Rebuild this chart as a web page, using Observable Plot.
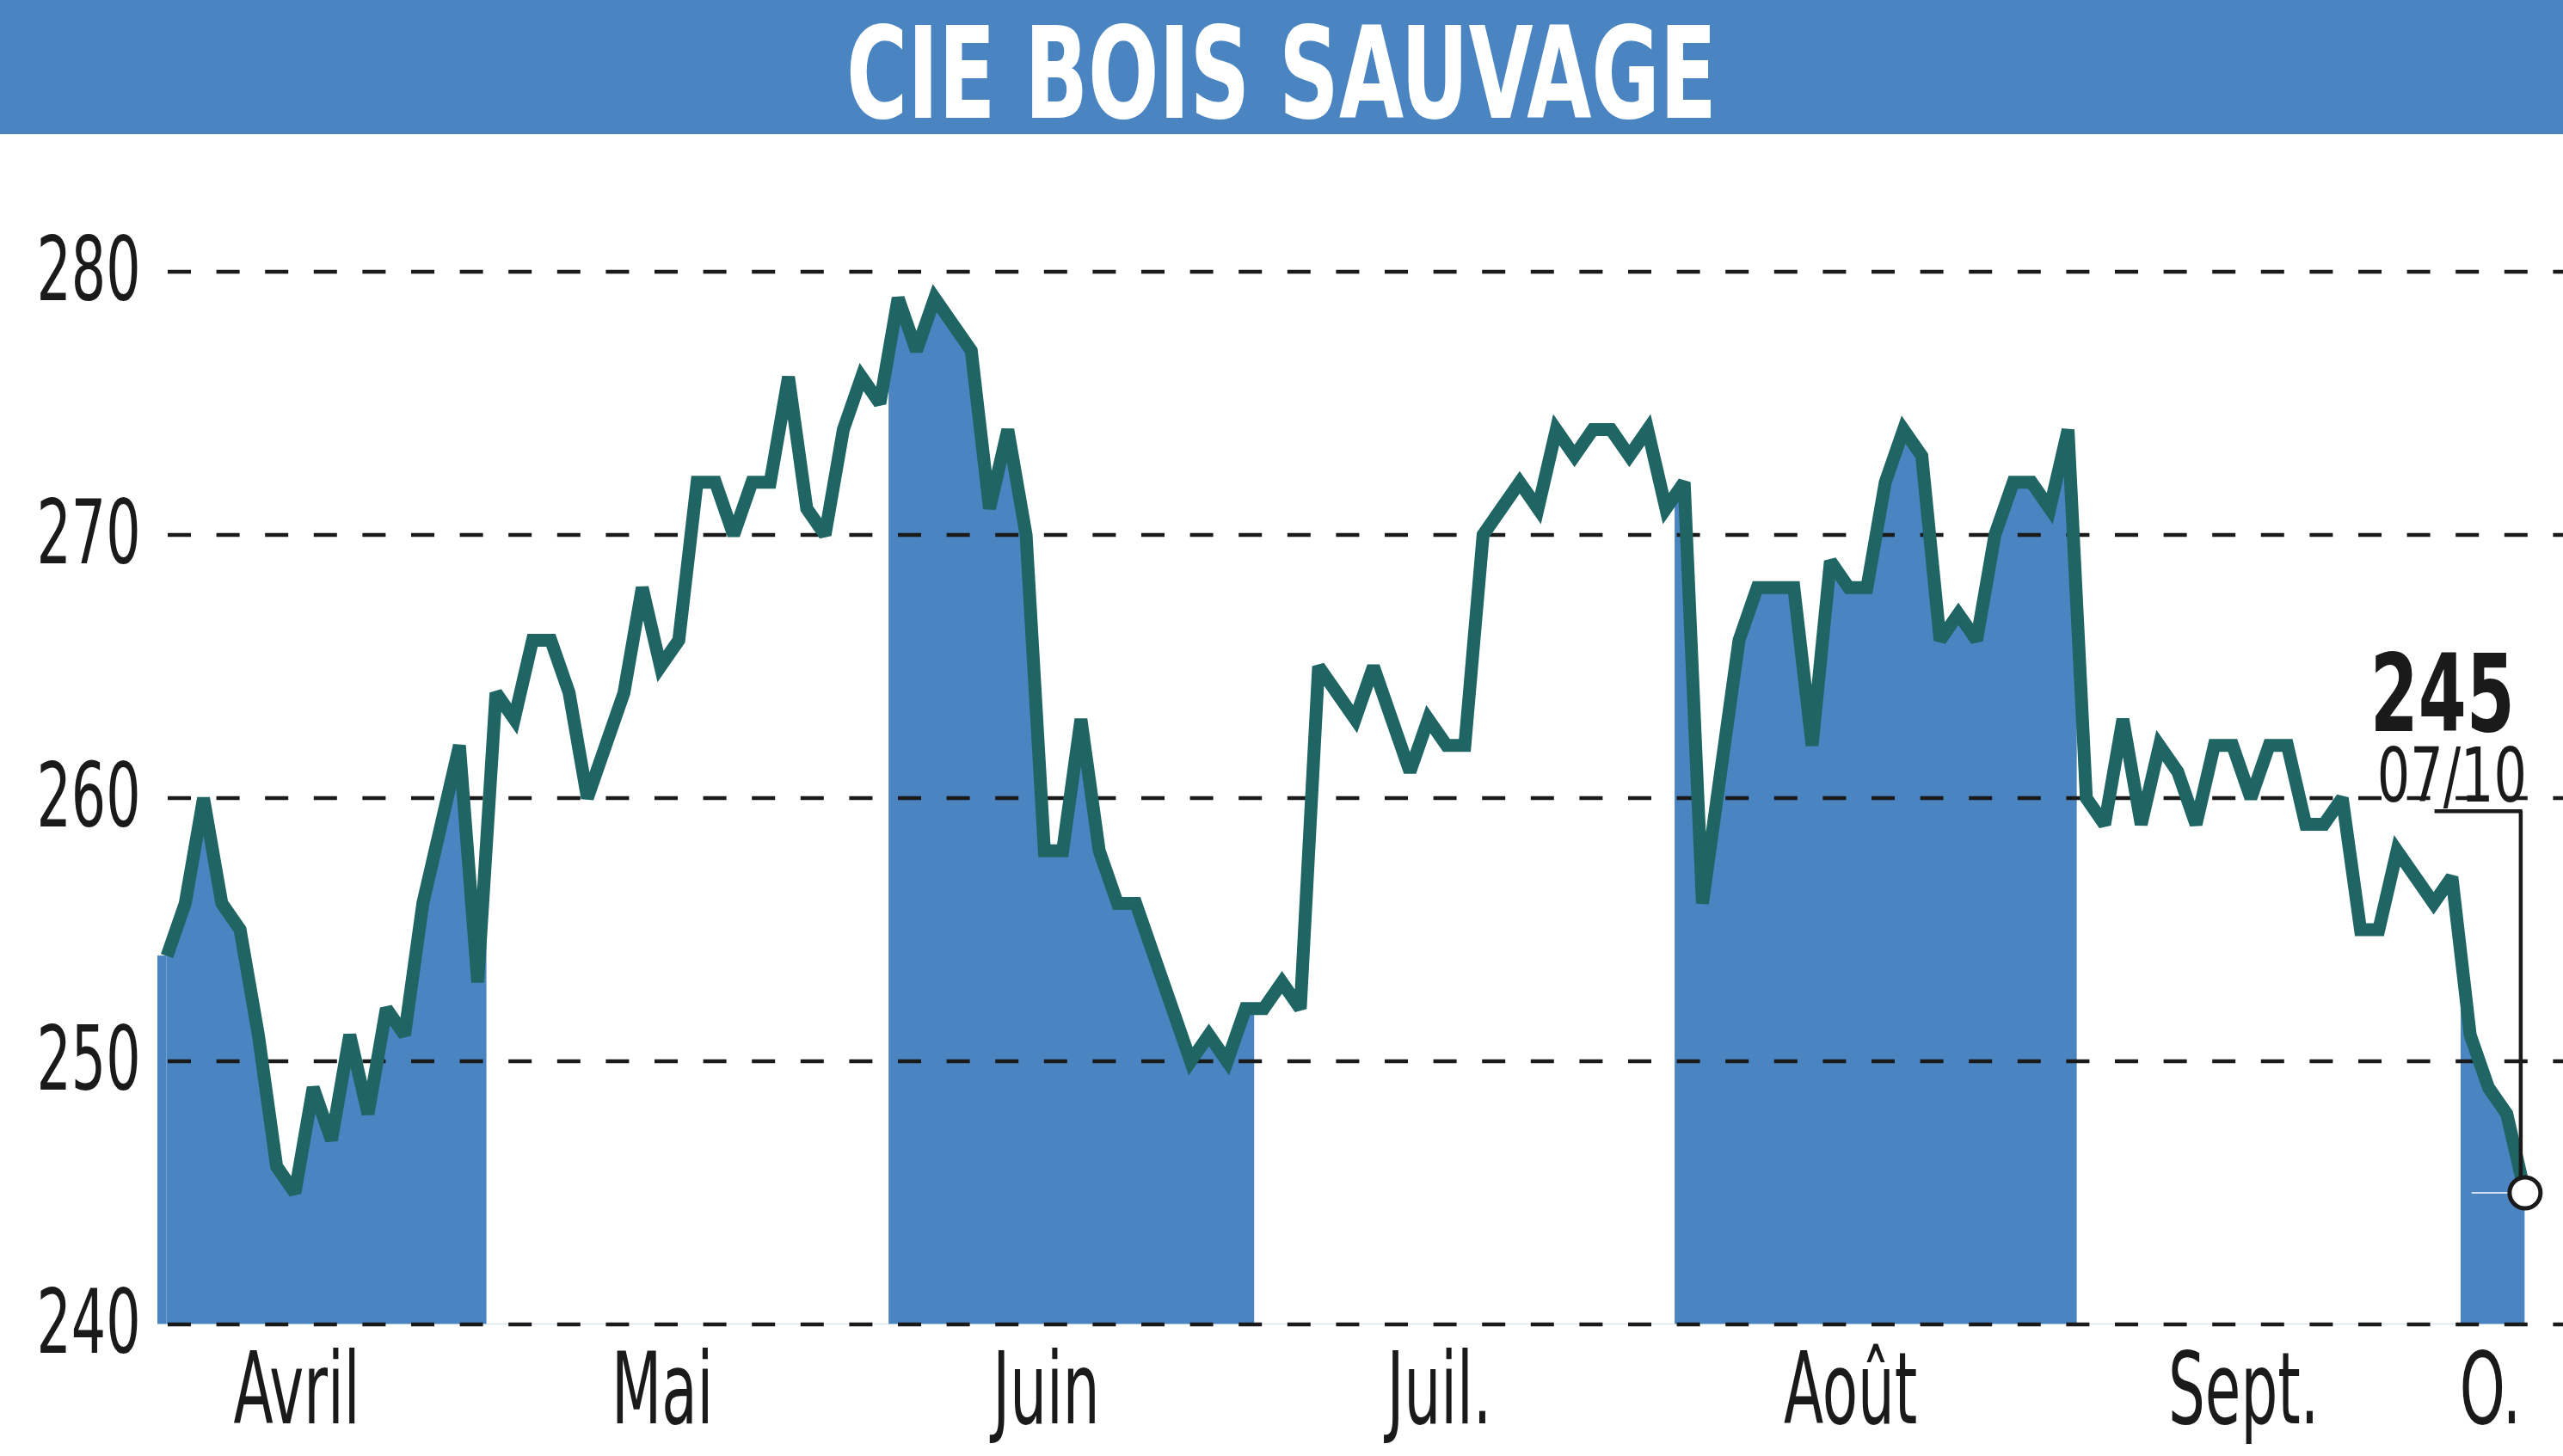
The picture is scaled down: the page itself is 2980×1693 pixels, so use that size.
<!DOCTYPE html>
<html>
<head>
<meta charset="utf-8">
<script src="https://cdn.jsdelivr.net/npm/d3@7"></script>
<script src="https://cdn.jsdelivr.net/npm/@observablehq/plot@0.6"></script>
<style>
  html, body { margin: 0; padding: 0; background: #ffffff; }
  #wrap { width: 2980px; }
  svg { display: block; }
</style>
</head>
<body>
<div id="wrap"></div>
<script>
// ---------------- data ----------------
const title = "CIE BOIS SAUVAGE";
const months = ["Avril", "Mai", "Juin", "Juil.", "Août", "Sept.", "O."];
const monthSessions = [18, 22, 20, 23, 22, 21, 4];
const aprilValues = [254, 256, 260, 256, 255, 251, 246, 245, 249, 247, 251, 248, 252, 251, 256, 259, 262, 253];
const mayValues = [264, 263, 266, 266, 264, 260, 262, 264, 268, 265, 266, 272, 272, 270, 272, 272, 276, 271, 270, 274, 276, 275];
const juneValues = [279, 277, 279, 278, 277, 271, 274, 270, 258, 258, 263, 258, 256, 256, 254, 252, 250, 251, 250, 252];
const julyValues = [252, 253, 252, 265, 264, 263, 265, 263, 261, 263, 262, 262, 270, 271, 272, 271, 274, 273, 274, 274, 273, 274, 271];
const augustValues = [272, 256, 261, 266, 268, 268, 268, 262, 269, 268, 268, 272, 274, 273, 266, 267, 266, 270, 272, 272, 271, 274];
const septemberValues = [260, 259, 263, 259, 262, 261, 259, 262, 262, 260, 262, 262, 259, 259, 260, 255, 255, 258, 257, 256, 257];
const octoberValues = [251, 249, 248, 245];
const yTicks = [240, 250, 260, 270, 280];
const lastDate = "07/10";

// ---------------- styles ----------------
const BLUE = "#4a84c1";
const TEAL = "#1e6563";
const INK = "#1a1a1a";
const FONT = "'Liberation Sans Narrow', 'DejaVu Sans Condensed', 'Arial Narrow', sans-serif";
const W = 2980, TITLE_H = 156, H = 1693 - TITLE_H;

// ---------------- build ----------------
const values = [].concat(aprilValues, mayValues, juneValues, julyValues, augustValues, septemberValues, octoberValues);
const data = values.map((v, i) => ({i, v}));
const last = data[data.length - 1];
const yMin = yTicks[0], yMax = yTicks[yTicks.length - 1];

let cursor = 0;
const spans = months.map((name, k) => {
  const n = monthSessions[k];
  const s = {name, k, n, first: cursor, last: cursor + n - 1};
  cursor += n;
  s.x1 = s.first - 0.5;
  s.x2 = s.last + 0.5;
  s.mid = (s.first + s.last) / 2 - Math.min(1.4, n / 10);
  return s;
});

// title bar
const wrap = document.getElementById("wrap");
const NS = "http://www.w3.org/2000/svg";
const tsvg = document.createElementNS(NS, "svg");
tsvg.setAttribute("width", W);
tsvg.setAttribute("height", TITLE_H);
const trect = document.createElementNS(NS, "rect");
trect.setAttribute("width", W);
trect.setAttribute("height", TITLE_H);
trect.setAttribute("fill", BLUE);
tsvg.appendChild(trect);
const ttext = document.createElementNS(NS, "text");
ttext.setAttribute("x", W / 2);
ttext.setAttribute("y", 137);
ttext.setAttribute("text-anchor", "middle");
ttext.setAttribute("fill", "#ffffff");
ttext.setAttribute("font-weight", "bold");
ttext.setAttribute("font-size", 148);
ttext.setAttribute("font-family", FONT);
ttext.textContent = title;
tsvg.appendChild(ttext);
wrap.appendChild(tsvg);

const chart = Plot.plot({
  width: W,
  height: H,
  marginLeft: 183,
  marginRight: 0,
  marginTop: 159.5,
  marginBottom: 153.5,
  style: {fontFamily: FONT, background: "#ffffff", color: INK, overflow: "visible"},
  x: {domain: [-0.5, data.length - 1 + 2.1], axis: null},
  y: {domain: [yMin, yMax], axis: null},
  marks: [
    Plot.areaY(data, {x: "i", y1: yMin, y2: "v", fill: BLUE}),
    Plot.rect([data[0]], {x1: d => d.i - 0.5, x2: "i", y1: yMin, y2: "v", fill: BLUE}),
    Plot.rect(spans.filter(s => s.k % 2 === 1), {x1: "x1", x2: "x2", y1: yMin, y2: yMax, fill: "#ffffff"}),
    Plot.ruleY(yTicks, {stroke: INK, strokeWidth: 4.5, strokeDasharray: "27,29.6", strokeDashoffset: -12}),
    Plot.axisY(yTicks, {tickSize: 0, tickPadding: 20, fontSize: 104, fill: INK, label: null, tickFormat: d => String(d)}),
    Plot.text(spans, {x: "mid", y: yMin, text: "name", lineAnchor: "top", dy: 33, fontSize: 115, fill: INK}),
    Plot.lineY(data, {x: "i", y: "v", stroke: TEAL, strokeWidth: 15, strokeLinejoin: "miter", strokeMiterlimit: 2.5, strokeLinecap: "butt"}),
    Plot.ruleY([last], {y: "v", x1: d => d.i - 2.9, x2: "i", stroke: "#ffffff", strokeWidth: 1.5}),
    Plot.ruleX([last], {x: "i", y1: "v", y2: d => d.v + 14.5, dx: -5, stroke: INK, strokeWidth: 4.5}),
    Plot.ruleY([last], {y: d => d.v + 14.5, x1: d => d.i - 4.8, x2: "i", dx: -2.75, stroke: INK, strokeWidth: 4.5}),
    Plot.dot([last], {x: "i", y: "v", r: 18, fill: "#ffffff", stroke: INK, strokeWidth: 5}),
    Plot.text([last], {x: "i", y: "v", text: d => String(d.v), textAnchor: "end", lineAnchor: "bottom", dx: -12, dy: -537, fontSize: 125, fontWeight: "bold", fill: INK}),
    Plot.text([last], {x: "i", y: "v", text: () => lastDate, textAnchor: "end", lineAnchor: "bottom", dx: 2, dy: -455, fontSize: 88, fill: INK})
  ]
});
wrap.appendChild(chart);

// condense text to match the narrow typeface of the original
function fitWidth(el, target) {
  const w = el.getComputedTextLength();
  if (w > 0) {
    el.setAttribute("textLength", target);
    el.setAttribute("lengthAdjust", "spacingAndGlyphs");
  }
}
function ratioFor(el, sample, target) {
  const probe = document.createElementNS(NS, "text");
  probe.textContent = sample;
  el.parentNode.appendChild(probe);
  probe.setAttribute("font-size", getComputedStyle(el).fontSize);
  probe.setAttribute("font-weight", getComputedStyle(el).fontWeight);
  const w = probe.getComputedTextLength();
  probe.remove();
  return w > 0 ? target / w : 1;
}
fitWidth(ttext, 1012);

const texts = Array.from(chart.querySelectorAll("text"));
let yRatio = null, mRatio = null;
texts.forEach(el => {
  const fs = parseFloat(getComputedStyle(el).fontSize);
  const w = el.getComputedTextLength();
  if (Math.abs(fs - 104) < 1) {
    if (yRatio === null) yRatio = ratioFor(el, "280", 121);
    fitWidth(el, w * yRatio);
  } else if (Math.abs(fs - 115) < 1) {
    if (mRatio === null) mRatio = ratioFor(el, "Avril", 147);
    fitWidth(el, w * mRatio);
  } else if (Math.abs(fs - 88) < 1) {
    fitWidth(el, 174);
  } else if (Math.abs(fs - 125) < 1) {
    fitWidth(el, 168);
  }
});
</script>
</body>
</html>
